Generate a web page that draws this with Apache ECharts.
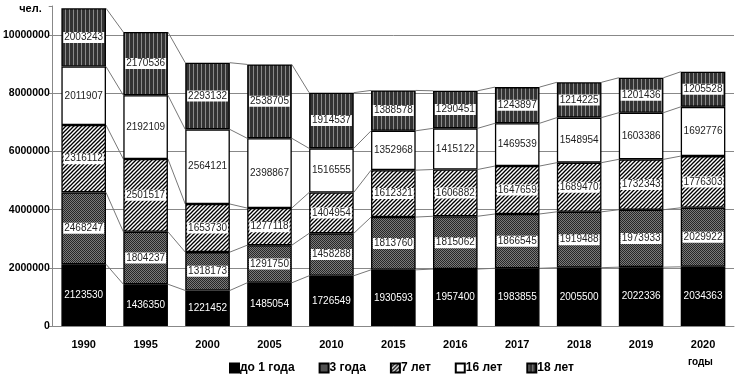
<!DOCTYPE html>
<html>
<head>
<meta charset="utf-8">
<script src="https://cdn.jsdelivr.net/npm/echarts@6/dist/echarts.min.js"></script>
<style>
  html, body { margin: 0; padding: 0; background: #fff; }
  #chart { width: 738px; height: 377px; }
</style>
</head>
<body>
<div id="chart"></div>
<script>
const years = ['1990', '1995', '2000', '2005', '2010', '2015', '2016', '2017', '2018', '2019', '2020'];
const under1 = [2123530, 1436350, 1221452, 1485054, 1726549, 1930593, 1957400, 1983855, 2005500, 2022336, 2034363];
const age3 = [2468247, 1804237, 1318173, 1291750, 1458288, 1813760, 1815062, 1866545, 1919488, 1973933, 2029922];
const age7 = [2316112, 2501517, 1653730, 1277118, 1404954, 1612321, 1606882, 1647659, 1689470, 1732343, 1776303];
const age16 = [2011907, 2192109, 2564121, 2398867, 1516555, 1352968, 1415122, 1469539, 1548954, 1603386, 1692776];
const age18 = [2003243, 2170536, 2293132, 2538705, 1914537, 1388578, 1290451, 1243897, 1214225, 1201436, 1205528];
const seriesNames = ['до 1 года', '3 года', '7 лет', '16 лет', '18 лет'];
const yTicks = [0, 2000000, 4000000, 6000000, 8000000, 10000000];

const BAR_RATIO = 0.72;

// patterns
function makePattern(w, h, draw) {
  const c = document.createElement('canvas');
  c.width = w; c.height = h;
  draw(c.getContext('2d'));
  return { image: c, repeat: 'repeat' };
}

const patCheck = makePattern(4, 4, ctx => {
  ctx.fillStyle = '#7a7a7a';
  ctx.fillRect(0, 0, 4, 4);
  ctx.fillStyle = '#262626';
  for (let x = 0; x < 4; x++) {
    for (let y = 0; y < 4; y++) {
      if ((x + y) % 2 === 0) ctx.fillRect(x, y, 1, 1);
    }
  }
});

const patDiag = makePattern(4, 4, ctx => {
  ctx.fillStyle = '#fff';
  ctx.fillRect(0, 0, 4, 4);
  ctx.strokeStyle = '#000';
  ctx.lineWidth = 1.3;
  [[-4, 4, 4, -4], [0, 4, 4, 0], [0, 8, 8, 0]].forEach(l => {
    ctx.beginPath();
    ctx.moveTo(l[0], l[1]);
    ctx.lineTo(l[2], l[3]);
    ctx.stroke();
  });
});

const patVert = makePattern(4, 4, ctx => {
  ctx.fillStyle = '#333';
  ctx.fillRect(0, 0, 4, 4);
  ctx.fillStyle = '#8a8a8a';
  ctx.fillRect(1, 0, 1, 4);
});

const stackData = [under1, age3, age7, age16, age18];
const cum = [];
stackData.forEach((arr, k) => {
  cum.push(arr.map((v, i) => v + (k > 0 ? cum[k - 1][i] : 0)));
});

const boxLabel = {
  show: true,
  position: 'inside',
  fontSize: 10,
  color: '#222',
  backgroundColor: '#fff',
  padding: [1, 1, 0, 1]
};

function barSeries(name, data, color, label) {
  return {
    name: name,
    type: 'bar',
    stack: 'total',
    data: data,
    barCategoryGap: '28%',
    itemStyle: { color: color, borderColor: '#000', borderWidth: 1.3 },
    label: label,
    emphasis: { disabled: true }
  };
}

const chart = echarts.init(document.getElementById('chart'));

const option = {
  animation: false,
  textStyle: { fontFamily: 'Liberation Sans, Arial, sans-serif' },
  grid: { left: 47, right: 4, top: 6, bottom: 51 },
  title: {
    text: 'годы',
    left: 688,
    top: 357,
    textStyle: { fontSize: 10, fontWeight: 'bold', color: '#000' },
    padding: 0
  },
  legend: {
    data: seriesNames,
    icon: 'rect',
    left: 229,
    bottom: 3,
    itemWidth: 9,
    itemHeight: 9,
    itemGap: 24,
    padding: 0,
    textStyle: { fontSize: 12, fontWeight: 'bold', color: '#000', padding: [0, 0, 0, -4] }
  },
  xAxis: {
    type: 'category',
    data: years,
    axisLine: { lineStyle: { color: '#888' } },
    axisTick: { length: 4, lineStyle: { color: '#888' } },
    axisLabel: { fontSize: 11, fontWeight: 'bold', color: '#000', margin: 13 }
  },
  yAxis: {
    type: 'value',
    min: 0,
    max: 11000000,
    interval: 2000000,
    name: 'чел.',
    nameLocation: 'end',
    nameGap: -3,
    nameTextStyle: {
      fontSize: 11, fontWeight: 'bold', color: '#000',
      align: 'right', verticalAlign: 'middle', padding: [0, 11, 0, 0]
    },
    axisLine: { show: true, lineStyle: { color: '#888' } },
    axisTick: { show: true, length: 4, lineStyle: { color: '#888' } },
    axisLabel: {
      fontSize: 10.5,
      fontWeight: 'bold',
      color: '#000',
      margin: 3,
      formatter: v => (yTicks.indexOf(v) >= 0 ? String(v) : '')
    },
    splitLine: { showMaxLine: false, lineStyle: { color: '#888', width: 1 } }
  },
  series: [
    barSeries(seriesNames[0], under1, '#000', { show: true, position: 'inside', fontSize: 10, color: '#fff' }),
    barSeries(seriesNames[1], age3, patCheck, boxLabel),
    barSeries(seriesNames[2], age7, patDiag, boxLabel),
    barSeries(seriesNames[3], age16, '#fff', { show: true, position: 'inside', fontSize: 10, color: '#222' }),
    barSeries(seriesNames[4], age18, patVert, boxLabel),
    {
      name: 'links',
      type: 'custom',
      silent: true,
      z: 1,
      data: years.slice(0, -1).map((y, i) => [i, 0]),
      renderItem: function (params, api) {
        const i = api.value(0);
        const half = api.size([1, 0])[0] * BAR_RATIO / 2;
        const children = cum.map(level => {
          const p1 = api.coord([i, level[i]]);
          const p2 = api.coord([i + 1, level[i + 1]]);
          return {
            type: 'line',
            shape: { x1: p1[0] + half, y1: p1[1], x2: p2[0] - half, y2: p2[1] },
            style: { stroke: '#777', lineWidth: 1 }
          };
        });
        return { type: 'group', children: children };
      }
    }
  ]
};

chart.setOption(option);
</script>
</body>
</html>
